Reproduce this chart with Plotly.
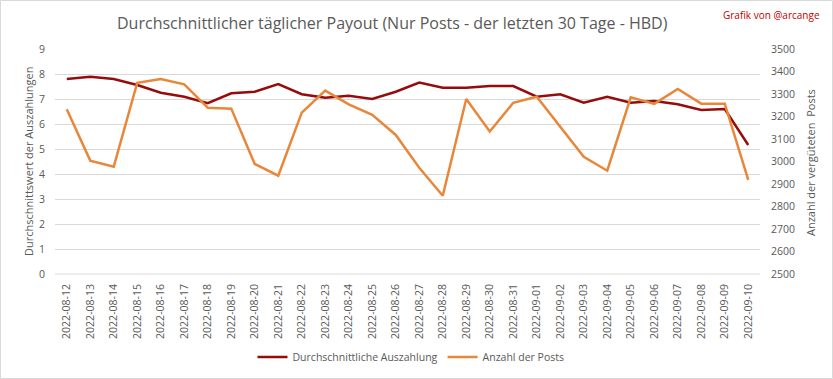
import plotly.graph_objects as go

dates = ["2022-08-12","2022-08-13","2022-08-14","2022-08-15","2022-08-16","2022-08-17","2022-08-18",
         "2022-08-19","2022-08-20","2022-08-21","2022-08-22","2022-08-23","2022-08-24","2022-08-25",
         "2022-08-26","2022-08-27","2022-08-28","2022-08-29","2022-08-30","2022-08-31","2022-09-01",
         "2022-09-02","2022-09-03","2022-09-04","2022-09-05","2022-09-06","2022-09-07","2022-09-08",
         "2022-09-09","2022-09-10"]
payout = [7.80, 7.89, 7.80, 7.56, 7.25, 7.09, 6.83, 7.23, 7.29, 7.60, 7.19, 7.05, 7.13, 7.00,
          7.29, 7.66, 7.45, 7.45, 7.52, 7.52, 7.09, 7.19, 6.85, 7.09, 6.85, 6.92, 6.79, 6.56,
          6.60, 5.16]
posts = [3232, 3004, 2977, 3350, 3367, 3343, 3239, 3235, 2989, 2937, 3217, 3315, 3254, 3207,
         3118, 2972, 2848, 3278, 3133, 3261, 3288, 3153, 3021, 2959, 3285, 3256, 3322, 3257,
         3257, 2918]
left_ticks = list(range(0, 10))
right_ticks = list(range(2500, 3600, 100))

W, H = 833, 379
L, R, T, B = 55, 760, 49, 274
def px(x): return (x - L) / (R - L)
def py(y): return (B - y) / (B - T)

FONT = "Open Sans"
GRAY = "#595959"

fig = go.Figure()
fig.add_trace(go.Scatter(x=dates, y=payout, name="Durchschnittliche Auszahlung", mode="lines",
                         line=dict(color="#960C0C", width=2.5), yaxis="y"))
fig.add_trace(go.Scatter(x=dates, y=posts, name="Anzahl der Posts", mode="lines",
                         line=dict(color="#E8873A", width=2.5), yaxis="y2"))

fig.update_layout(
    width=W, height=H,
    margin=dict(l=L, r=W - R, t=T, b=H - B, autoexpand=False),
    paper_bgcolor="white", plot_bgcolor="white",
    font=dict(family=FONT, color=GRAY, size=11),
    showlegend=True,
    legend=dict(orientation="h", x=px(411), y=py(357), xanchor="center", yanchor="middle",
                font=dict(size=10.5, color=GRAY), itemwidth=30, tracegroupgap=0),
    xaxis=dict(type="category", range=[-0.5, len(dates) - 0.5], tickangle=-90,
               showgrid=False, showline=False, ticks="", ticklabelstandoff=7,
               tickfont=dict(size=10.5, color=GRAY), zeroline=False),
    yaxis=dict(range=[0, 9], tickvals=left_ticks, showgrid=True, gridcolor="#D9D9D9", gridwidth=1,
               zeroline=False, ticks="", ticklabelstandoff=9, tickfont=dict(size=10.5, color=GRAY)),
    yaxis2=dict(range=[2500, 3500], tickvals=right_ticks, overlaying="y", side="right",
                showgrid=False, zeroline=False, ticks="", ticklabelstandoff=10,
                tickfont=dict(size=10.5, color=GRAY)),
    annotations=[
        dict(text="Durchschnittlicher täglicher Payout (Nur Posts - der letzten 30 Tage - HBD)",
             x=px(392), y=py(23), xref="paper", yref="paper", xanchor="center", yanchor="middle",
             showarrow=False, font=dict(size=16, color=GRAY, family=FONT)),
        dict(text="Grafik von @arcange", x=px(822), y=py(15), xref="paper", yref="paper",
             xanchor="right", yanchor="middle", showarrow=False,
             font=dict(size=10, color="#C00000", family=FONT)),
        dict(text="Durchschnittswert der Auszahlungen", x=px(28), y=py(162), xref="paper", yref="paper",
             xanchor="center", yanchor="middle", textangle=-90, showarrow=False,
             font=dict(size=11, color=GRAY, family=FONT)),
        dict(text="Anzahl der vergüteten  Posts", x=px(810), y=py(163), xref="paper", yref="paper",
             xanchor="center", yanchor="middle", textangle=-90, showarrow=False,
             font=dict(size=11, color=GRAY, family=FONT)),
    ],
    shapes=[
        dict(type="rect", xref="paper", yref="paper", x0=px(0.5), x1=px(W - 0.5), y0=py(H - 0.5), y1=py(0.5),
             line=dict(color="#D9D9D9", width=1), fillcolor="rgba(0,0,0,0)", layer="below"),
        dict(type="line", xref="paper", yref="paper", x0=0, x1=1, y0=0, y1=0,
             line=dict(color="#D9D9D9", width=1), layer="below"),
    ],
)

fig.write_html("out.html",
               config={"displayModeBar": False, "staticPlot": True},
               post_script="document.body.style.margin='0';document.body.style.overflow='hidden';")
